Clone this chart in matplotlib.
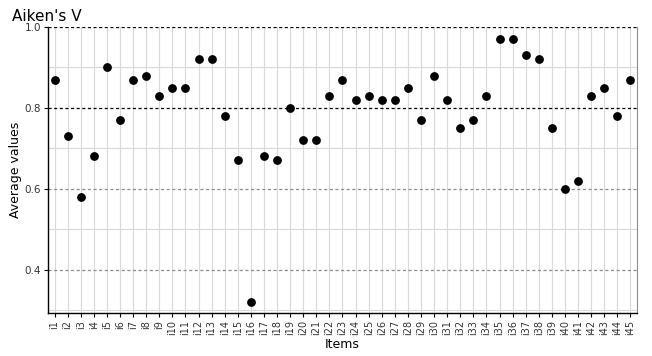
import numpy as np
import matplotlib.pyplot as plt

items = ['i%d' % i for i in range(1, 46)]
values = [0.87, 0.73, 0.58, 0.68, 0.90, 0.77, 0.87, 0.88, 0.83, 0.85,
          0.85, 0.92, 0.92, 0.78, 0.67, 0.32, 0.68, 0.67, 0.80, 0.72,
          0.72, 0.83, 0.87, 0.82, 0.83, 0.82, 0.82, 0.85, 0.77, 0.88,
          0.82, 0.75, 0.77, 0.83, 0.97, 0.97, 0.93, 0.92, 0.75, 0.60,
          0.62, 0.83, 0.85, 0.78, 0.87]
yticks = [0.4, 0.6, 0.8, 1.0]
minor_y = [0.3, 0.5, 0.7, 0.9]

fig = plt.figure(figsize=(6.52, 3.56), dpi=100)
ax = fig.add_axes([0.0736, 0.121, 0.9034, 0.803])

x = np.arange(1, len(items) + 1)
grid_c = '#d9d9d9'
for xi in x:
    ax.axvline(xi, color=grid_c, lw=0.8, zorder=0)
for yv in minor_y:
    ax.axhline(yv, color=grid_c, lw=0.8, zorder=0)

# reference lines
ax.axhline(1.0, color='black', lw=0.9, ls=(0, (2.5, 2)), zorder=1)
ax.axhline(0.8, color='black', lw=0.9, ls=(0, (2.5, 2)), zorder=1)
ax.axhline(0.6, color='#8c8c8c', lw=0.9, ls=(0, (2.5, 2)), zorder=1)
ax.axhline(0.4, color='#8c8c8c', lw=0.9, ls=(0, (2.5, 2)), zorder=1)

ax.scatter(x, values, s=28, color='black', zorder=3)

ax.set_xlim(0.5, len(items) + 0.5)
ax.set_ylim(0.293, 1.0)
ax.set_xticks(x)
ax.set_xticklabels(items, rotation=90, fontsize=7, color='#333333')
ax.set_yticks(yticks)
ax.set_yticklabels(['%.1f' % v for v in yticks], fontsize=7.5, color='#333333')
ax.tick_params(length=3, width=0.8, pad=2)

for s in ['left', 'bottom']:
    ax.spines[s].set_color('black')
    ax.spines[s].set_linewidth(1.0)
ax.spines['top'].set_visible(False)
ax.spines['right'].set_color('#8c8c8c')
ax.spines['right'].set_linewidth(0.8)

ax.set_xlabel('Items', fontsize=9, labelpad=2)
ax.set_ylabel('Average values', fontsize=9, labelpad=2)
fig.text(0.018, 0.955, "Aiken's V", fontsize=11, va='center', ha='left')

plt.savefig('out.png', dpi=100)
